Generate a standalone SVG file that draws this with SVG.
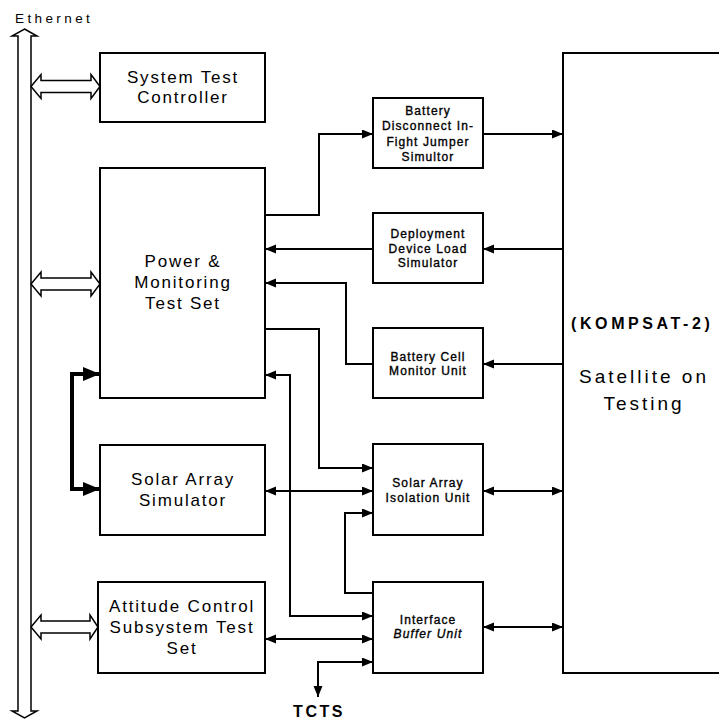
<svg xmlns="http://www.w3.org/2000/svg" width="719" height="719" viewBox="0 0 719 719">
<style>
.box{fill:#fff;stroke:#000;stroke-width:2}
.big{font-family:"Liberation Sans",Arial,sans-serif;font-size:17px;letter-spacing:1.8px;text-anchor:middle;fill:#000}
.sm{font-family:"Liberation Sans",Arial,sans-serif;font-size:12px;letter-spacing:1.1px;text-anchor:middle;fill:#000;stroke:#000;stroke-width:0.35px}
.con{fill:none;stroke:#000;stroke-width:2}
.hol{fill:#fff;stroke:#000;stroke-width:1.5}
</style>
<defs>
<marker id="ah" markerUnits="userSpaceOnUse" markerWidth="12" markerHeight="10" refX="11" refY="4.5" orient="auto-start-reverse"><path d="M0,0 L11,4.5 L0,9 z" fill="#000"/></marker>
<marker id="ahT" markerUnits="userSpaceOnUse" markerWidth="18" markerHeight="16" refX="17" refY="7" orient="auto-start-reverse"><path d="M0,0 L17,7 L0,14 z" fill="#000"/></marker>
</defs>
<text x="15" y="23" font-family="Liberation Sans,Arial,sans-serif" font-size="13.5" letter-spacing="3.4">Ethernet</text>
<g id="ethernet-bus">
<polygon class="hol" points="24.5,29 37,36 31,36 31,711 37,711 24.5,718 12,711 18,711 18,36 12,36"/>
</g>
<g id="ethernet-links">
<polygon class="hol" points="31,86.5 41,74.5 41,80.5 91,80.5 91,74.5 100,86.5 91,98.5 91,92.5 41,92.5 41,98.5"/>
<polygon class="hol" points="31,284 41,272 41,278 91,278 91,272 100,284 91,296 91,290 41,290 41,296"/>
<polygon class="hol" points="31,627 41,615 41,621 90,621 90,615 98,627 90,639 90,633 41,633 41,639"/>
</g>
<g id="stc"><rect class="box" x="100" y="53" width="165" height="69"/><text class="big" x="183" y="83">System Test</text><text class="big" x="183" y="103">Controller</text></g>
<g id="pmts"><rect class="box" x="100" y="168" width="165" height="230"/><text class="big" x="183" y="267">Power &amp;</text><text class="big" x="183" y="288">Monitoring</text><text class="big" x="183" y="309">Test Set</text></g>
<g id="sas"><rect class="box" x="100" y="445" width="165" height="90"/><text class="big" x="183" y="485">Solar Array</text><text class="big" x="183" y="506">Simulator</text></g>
<g id="acsts"><rect class="box" x="98" y="582" width="167" height="91"/><text class="big" x="182" y="612">Attitude Control</text><text class="big" x="182" y="633">Subsystem Test</text><text class="big" x="182" y="654">Set</text></g>
<g id="bdfjs"><rect class="box" x="373" y="98" width="110" height="70"/><text class="sm" x="428" y="115">Battery</text><text class="sm" x="428" y="130">Disconnect In-</text><text class="sm" x="428" y="146">Fight Jumper</text><text class="sm" x="428" y="161">Simultor</text></g>
<g id="ddls"><rect class="box" x="373" y="213" width="110" height="70"/><text class="sm" x="428" y="238">Deployment</text><text class="sm" x="428" y="253">Device Load</text><text class="sm" x="428" y="267">Simulator</text></g>
<g id="bcmu"><rect class="box" x="373" y="328" width="110" height="70"/><text class="sm" x="428" y="361">Battery Cell</text><text class="sm" x="428" y="375">Monitor Unit</text></g>
<g id="saiu"><rect class="box" x="373" y="444" width="110" height="91"/><text class="sm" x="428" y="487">Solar Array</text><text class="sm" x="428" y="502">Isolation Unit</text></g>
<g id="ibu"><rect class="box" x="373" y="582" width="110" height="91"/><text class="sm" x="428" y="624">Interface</text><text class="sm" x="428" y="638" font-style="italic">Buffer Unit</text></g>
<g id="satellite"><rect class="box" x="563" y="53" width="170" height="620"/>
<text x="571" y="329" font-family="Liberation Sans,Arial,sans-serif" font-size="16" font-weight="bold" letter-spacing="3.6">(KOMPSAT-2)</text>
<text x="644" y="383" font-family="Liberation Sans,Arial,sans-serif" font-size="19" letter-spacing="3" text-anchor="middle">Satellite on</text>
<text x="644" y="410" font-family="Liberation Sans,Arial,sans-serif" font-size="19" letter-spacing="3" text-anchor="middle">Testing</text></g>
<g id="tcts"><text x="319" y="717" font-family="Liberation Sans,Arial,sans-serif" font-size="16" font-weight="bold" letter-spacing="2.5" text-anchor="middle">TCTS</text></g>
<g id="connectors">
<path class="con" d="M265,215 H319 V134 H373" marker-end="url(#ah)"/>
<path class="con" d="M483,134 H563" marker-end="url(#ah)"/>
<path class="con" d="M563,249 H483" marker-end="url(#ah)"/>
<path class="con" d="M373,249 H265" marker-end="url(#ah)"/>
<path class="con" d="M563,364 H483" marker-end="url(#ah)"/>
<path class="con" d="M373,364 H346 V283 H265" marker-end="url(#ah)"/>
<path class="con" d="M265,329 H319 V468 H373" marker-end="url(#ah)"/>
<path class="con" d="M265,375 H290 V616 H373" marker-start="url(#ah)" marker-end="url(#ah)"/>
<path class="con" d="M265,491 H373" marker-start="url(#ah)" marker-end="url(#ah)"/>
<path class="con" d="M483,491 H563" marker-start="url(#ah)" marker-end="url(#ah)"/>
<path class="con" d="M373,593 H345 V513 H373" marker-end="url(#ah)"/>
<path class="con" d="M265,639 H373" marker-start="url(#ah)" marker-end="url(#ah)"/>
<path class="con" d="M373,662 H318 V697" marker-start="url(#ah)" marker-end="url(#ah)"/>
<path class="con" d="M483,627 H563" marker-start="url(#ah)" marker-end="url(#ah)"/>
<path fill="none" stroke="#000" stroke-width="4" d="M100,374 H72 V489 H100" marker-start="url(#ahT)" marker-end="url(#ahT)"/>
</g>
</svg>
